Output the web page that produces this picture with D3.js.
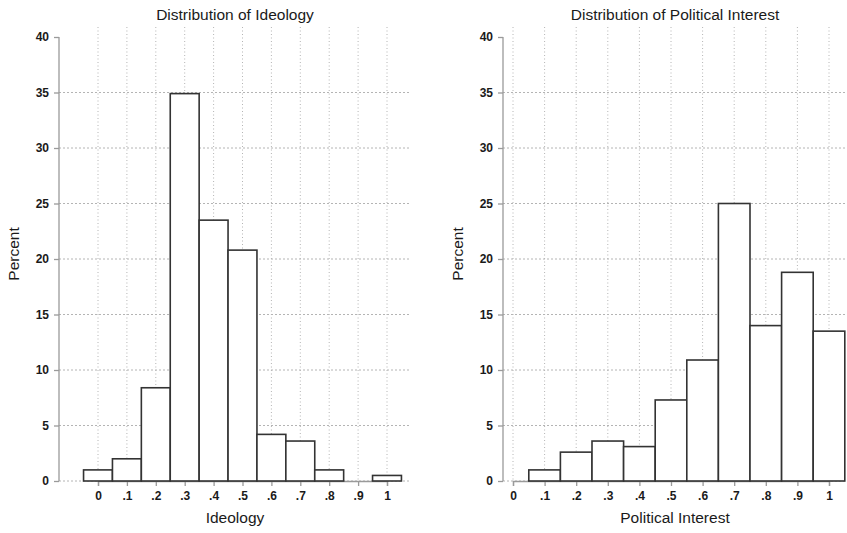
<!DOCTYPE html>
<html>
<head>
<meta charset="utf-8">
<script src="https://cdn.jsdelivr.net/npm/d3@7"></script>
<style>
  body { margin: 0; background: #fff; }
  svg { display: block; font-family: "Liberation Sans", Arial, Helvetica, sans-serif; }
</style>
</head>
<body>
<div id="chart"></div>
<script>
// values
var yTicks = [0, 5, 10, 15, 20, 25, 30, 35, 40];
var xTicks = [0, 0.1, 0.2, 0.3, 0.4, 0.5, 0.6, 0.7, 0.8, 0.9, 1];
var xTickLabels = ["0", ".1", ".2", ".3", ".4", ".5", ".6", ".7", ".8", ".9", "1"];

var ideologyBins = [0, 0.1, 0.2, 0.3, 0.4, 0.5, 0.6, 0.7, 0.8, 0.9, 1];
var ideologyPct = [1.0, 2.0, 8.4, 34.9, 23.5, 20.8, 4.2, 3.6, 1.0, 0, 0.5];

var interestBins = [0.1, 0.2, 0.3, 0.4, 0.5, 0.6, 0.7, 0.8, 0.9, 1];
var interestPct = [1.0, 2.6, 3.6, 3.1, 7.3, 10.9, 25.0, 14.0, 18.8, 13.5];

var width = 847, height = 533;
var binWidth = 0.1;

var svg = d3.select('#chart').append('svg')
    .attr('width', width)
    .attr('height', height);

var panels = [
    { title: 'Distribution of Ideology', xTitle: 'Ideology', bins: ideologyBins, pct: ideologyPct,
      axisX: 59, zeroX: 98, oneX: 387, rightX: 411 },
    { title: 'Distribution of Political Interest', xTitle: 'Political Interest', bins: interestBins, pct: interestPct,
      axisX: 503, zeroX: 513, oneX: 829, rightX: 847 }
];

var y = d3.scaleLinear().domain([0, 40]).range([481, 37]);
var gridTop = 27;

panels.forEach(function (p) {
    var x = d3.scaleLinear().domain([0, 1]).range([p.zeroX, p.oneX]);
    var g = svg.append('g');
    var mid = (p.axisX + p.rightX) / 2;

    // grid
    g.selectAll('.hgrid')
        .data(yTicks.filter(function (d) { return d < 40; }))
        .enter().append('line')
        .attr('x1', p.axisX).attr('x2', p.rightX)
        .attr('y1', function (d) { return y(d); })
        .attr('y2', function (d) { return y(d); })
        .attr('stroke', '#b4b4b4')
        .attr('stroke-width', 1)
        .attr('stroke-dasharray', '2,2');

    g.selectAll('.vgrid')
        .data(xTicks)
        .enter().append('line')
        .attr('x1', function (d) { return x(d); })
        .attr('x2', function (d) { return x(d); })
        .attr('y1', gridTop).attr('y2', y(0))
        .attr('stroke', '#b4b4b4')
        .attr('stroke-width', 1)
        .attr('stroke-dasharray', '1,2.5');

    // y axis
    var yAxis = d3.axisLeft(y).tickValues(yTicks).tickSize(5).tickPadding(5);
    var ya = g.append('g')
        .attr('transform', 'translate(' + p.axisX + ',0)')
        .call(yAxis);
    ya.select('.domain').attr('d', 'M0,' + y(40) + 'V' + y(0))
        .attr('stroke', '#9a9a9a').attr('stroke-width', 1.3);
    ya.selectAll('.tick line').attr('stroke', '#9a9a9a').attr('stroke-width', 1.3);
    ya.selectAll('.tick text')
        .attr('fill', '#1a1a1a')
        .style('font-size', '12px')
        .style('font-weight', 'bold')
        .style('font-family', '"Liberation Sans", Arial, sans-serif');

    // x axis
    var xAxis = d3.axisBottom(x).tickValues(xTicks)
        .tickFormat(function (d, i) { return xTickLabels[i]; })
        .tickSize(5).tickPadding(5);
    var xa = g.append('g')
        .attr('transform', 'translate(0,' + y(0) + ')')
        .call(xAxis);
    xa.select('.domain').attr('stroke', '#9a9a9a').attr('stroke-width', 1.3);
    xa.selectAll('.tick line').attr('stroke', '#9a9a9a').attr('stroke-width', 1.3);
    xa.selectAll('.tick text')
        .attr('fill', '#1a1a1a')
        .style('font-size', '12px')
        .style('font-weight', 'bold')
        .style('font-family', '"Liberation Sans", Arial, sans-serif');

    // bars
    var data = p.bins.map(function (b, i) { return { bin: b, value: p.pct[i] }; })
        .filter(function (d) { return d.value > 0; });
    g.selectAll('.bar')
        .data(data)
        .enter().append('rect')
        .attr('class', 'bar')
        .attr('x', function (d) { return x(d.bin - binWidth / 2); })
        .attr('width', function (d) { return x(d.bin + binWidth / 2) - x(d.bin - binWidth / 2); })
        .attr('y', function (d) { return y(d.value); })
        .attr('height', function (d) { return y(0) - y(d.value); })
        .attr('fill', '#fff')
        .attr('stroke', '#333')
        .attr('stroke-width', 1.6);

    // titles
    g.append('text')
        .attr('x', mid).attr('y', 20)
        .attr('text-anchor', 'middle')
        .attr('fill', '#1a1a1a')
        .style('font-size', '15.5px')
        .text(p.title);

    g.append('text')
        .attr('x', mid).attr('y', 523)
        .attr('text-anchor', 'middle')
        .attr('fill', '#1a1a1a')
        .style('font-size', '15.5px')
        .text(p.xTitle);

    g.append('text')
        .attr('transform', 'translate(' + (p.axisX - 40) + ',254) rotate(-90)')
        .attr('text-anchor', 'middle')
        .attr('fill', '#1a1a1a')
        .style('font-size', '15.5px')
        .text('Percent');
});
</script>
</body>
</html>
